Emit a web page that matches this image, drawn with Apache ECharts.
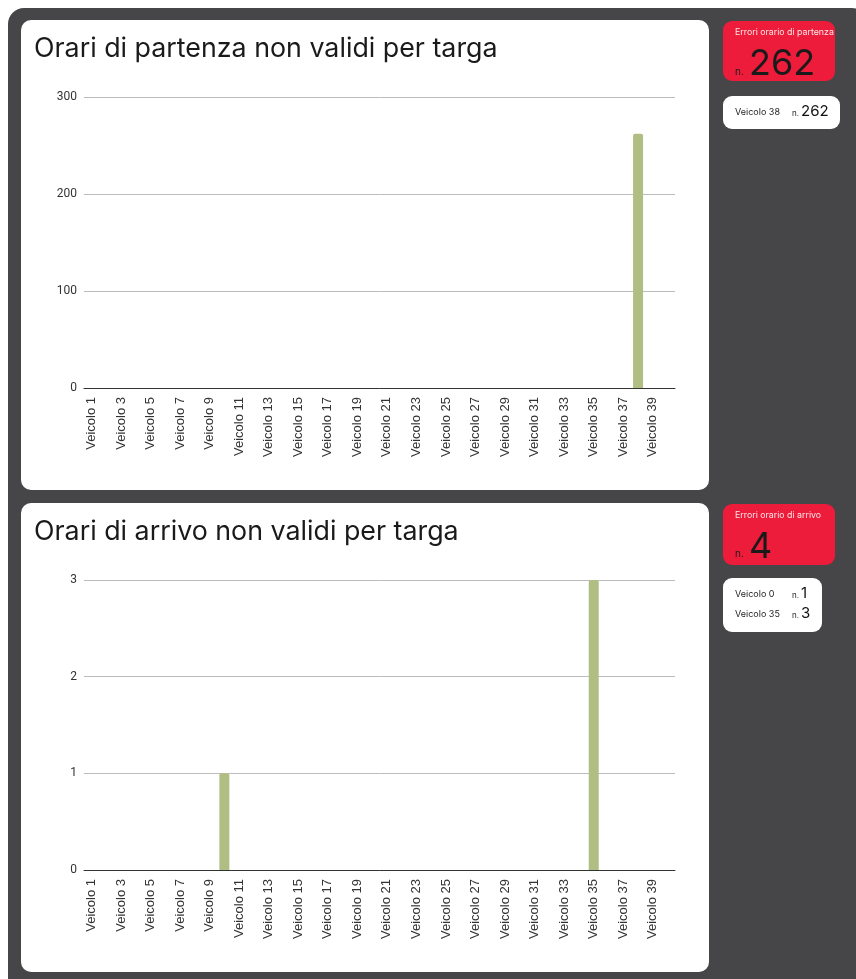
<!DOCTYPE html>
<html><head><meta charset="utf-8">
<script src="https://cdn.jsdelivr.net/npm/echarts@6/dist/echarts.min.js"></script>
<style>html,body{margin:0;padding:0;background:#fff}#c{width:856px;height:979px}</style>
</head><body><div id="c"></div>
<script>
const categories = [];
for (let i = 1; i <= 40; i++) categories.push('Veicolo ' + i);
const departureValues = [0,0,0,0,0,0,0,0,0,0,0,0,0,0,0,0,0,0,0,0,0,0,0,0,0,0,0,0,0,0,0,0,0,0,0,0,0,262,0,0];
const arrivalValues   = [0,0,0,0,0,0,0,0,0,1,0,0,0,0,0,0,0,0,0,0,0,0,0,0,0,0,0,0,0,0,0,0,0,0,3,0,0,0,0,0];
const departureTitle = 'Orari di partenza non validi per targa';
const arrivalTitle = 'Orari di arrivo non validi per targa';
const departureTotal = '262';
const arrivalTotal = '4';
const departureList = [['Veicolo 38', '262']];
const arrivalList = [['Veicolo 0', '1'], ['Veicolo 35', '3']];

const chart = echarts.init(document.getElementById('c'), null, {renderer:'canvas'});
const F = 'Inter, "Noto Sans", sans-serif';
const barColor = '#b0be84';

function listText(list, x, y0, dy) {
  const out = [];
  list.forEach((r, i) => {
    const y = y0 + i * dy;
    out.push({type:'text', left:x, top:y - 5, style:{text:r[0], font:'400 9px ' + F, fill:'#222'}});
    out.push({type:'text', left:x + 57, top:y - 3, style:{text:'n.', font:'400 8px ' + F, fill:'#222'}});
    out.push({type:'text', left:x + 66, top:y - 9, style:{text:r[1], font:'400 15px ' + F, fill:'#111'}});
  });
  return out;
}

const graphic = [
  {type:'rect', shape:{x:8, y:8, width:860, height:990, r:16}, style:{fill:'#464648'}, z:-10},
  {type:'rect', shape:{x:21, y:20, width:688, height:470, r:10}, style:{fill:'#fff'}, z:-5},
  {type:'rect', shape:{x:21, y:503, width:688, height:469, r:10}, style:{fill:'#fff'}, z:-5},
  {type:'text', left:34, top:35, style:{text:departureTitle, font:'400 26.8px ' + F, fill:'#1a1a1a'}},
  {type:'text', left:34, top:518, style:{text:arrivalTitle, font:'400 26.8px ' + F, fill:'#1a1a1a'}},
  // red boxes
  {type:'rect', shape:{x:723, y:21, width:112, height:60, r:9}, style:{fill:'#ed1c3a'}},
  {type:'text', left:735, top:28, style:{text:'Errori orario di partenza', font:'400 8.8px ' + F, fill:'#ffe8ea'}},
  {type:'text', left:735, top:67, style:{text:'n.', font:'400 10px ' + F, fill:'#1a1a1a'}},
  {type:'text', left:749, top:46, style:{text:departureTotal, font:'400 36px ' + F, fill:'#1a1a1a'}},
  {type:'rect', shape:{x:723, y:96, width:117, height:33, r:9}, style:{fill:'#fff'}},
  {type:'rect', shape:{x:723, y:504, width:112, height:61, r:9}, style:{fill:'#ed1c3a'}},
  {type:'text', left:735, top:511, style:{text:'Errori orario di arrivo', font:'400 8.8px ' + F, fill:'#ffe8ea'}},
  {type:'text', left:735, top:549, style:{text:'n.', font:'400 10px ' + F, fill:'#1a1a1a'}},
  {type:'text', left:749, top:529, style:{text:arrivalTotal, font:'400 36px ' + F, fill:'#1a1a1a'}},
  {type:'rect', shape:{x:723, y:578, width:99, height:54, r:9}, style:{fill:'#fff'}}
].concat(listText(departureList, 735, 113, 20)).concat(listText(arrivalList, 735, 595, 20));

const xAxisCommon = {
  type:'category', data:categories,
  axisLine:{lineStyle:{color:'#333', width:1}},
  axisTick:{show:false},
  axisLabel:{rotate:90, interval:1, color:'#333', fontFamily:'"Liberation Sans", Arial, sans-serif', fontSize:13, margin:9, padding:[5,0,0,0]}
};
const yAxisCommon = {
  type:'value', min:0,
  axisLine:{show:false}, axisTick:{show:false},
  axisLabel:{color:'#333', fontFamily:'Roboto, sans-serif', fontSize:12, margin:7},
  splitLine:{lineStyle:{color:'#bcbcbc', width:1}}
};

chart.setOption({
  animation:false,
  graphic:graphic,
  grid:[
    {left:84, right:181, top:97, bottom:979-388},
    {left:84, right:181, top:580, bottom:979-870}
  ],
  xAxis:[Object.assign({gridIndex:0}, xAxisCommon), Object.assign({gridIndex:1}, xAxisCommon)],
  yAxis:[Object.assign({gridIndex:0, max:300, interval:100}, yAxisCommon), Object.assign({gridIndex:1, max:3, interval:1}, yAxisCommon)],
  series:[
    {type:'bar', xAxisIndex:0, yAxisIndex:0, data:departureValues, barWidth:10, itemStyle:{color:barColor, borderRadius:[2,2,0,0]}},
    {type:'bar', xAxisIndex:1, yAxisIndex:1, data:arrivalValues, barWidth:10, itemStyle:{color:barColor, borderRadius:[2,2,0,0]}}
  ]
});
</script></body></html>
